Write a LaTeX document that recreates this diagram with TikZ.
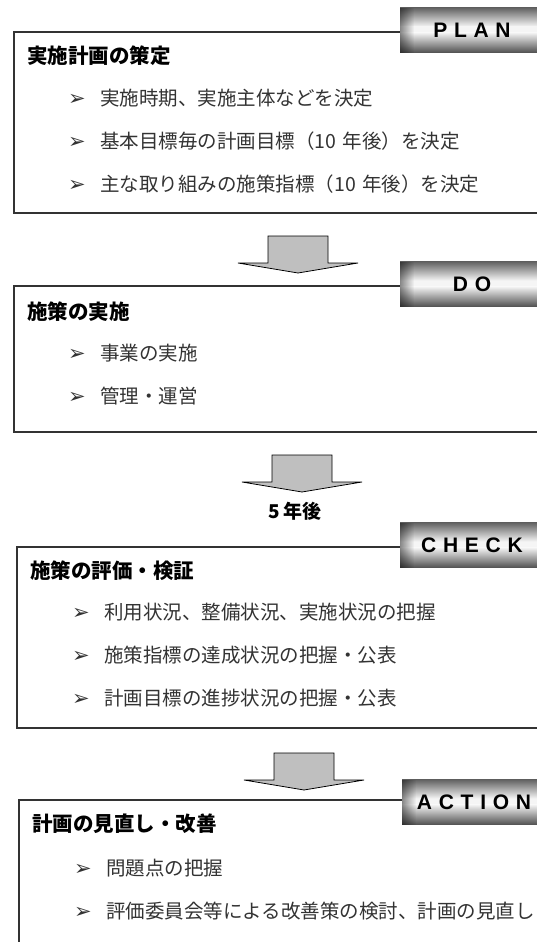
\documentclass[tikz,border=0pt]{standalone}
\usepackage{fontspec}
\usepackage{tikz}
\usetikzlibrary{positioning, calc, fadings}
\setmainfont{Noto Sans CJK JP}
\newfontfamily\latinfont{Liberation Sans}
\newfontfamily\symfont{DejaVu Sans}

\newcommand{\itembul}{\makebox[32pt][l]{\symfont\fontsize{21}{21}\selectfont ➢}}

\begin{document}
\begin{tikzpicture}[x=1pt,y=-1pt,node distance=43pt,
    panel/.style={draw=black!80,line width=1.3pt},
    title/.style={anchor=west,inner sep=0pt,font=\bfseries\fontsize{20.5}{21}\selectfont},
    item/.style={anchor=west,inner sep=0pt,text width=440pt,align=left,
      text=black!80,font=\fontsize{19.5}{20}\selectfont},
    tag/.style={minimum width=144pt,minimum height=45pt,inner sep=0pt,
      font=\latinfont\bfseries\fontsize{21}{22}\selectfont\addfontfeature{LetterSpace=32},
      path picture={
        \coordinate (nw) at (path picture bounding box.north west);
        \coordinate (se) at (path picture bounding box.south east);
        \shade[top color=black!62,bottom color=black!4] (nw) rectangle ([yshift=-19pt]nw -| se);
        \fill[black!4] ([yshift=-19pt]nw) rectangle ([yshift=-25pt]nw -| se);
        \shade[top color=black!4,bottom color=black!68] ([yshift=-25pt]nw) rectangle (se);
        \fill[black,fill opacity=0.45,path fading=east] (nw) rectangle ([xshift=14pt]se -| nw);
      }},
    flow/.style={draw=black,line width=0.8pt,fill=black!25},
    flowarrow/.pic={\draw[flow] (-30,0) -- (30,0) -- (30,27) -- (60,27) -- (0,37)
      -- (-60,27) -- (-30,27) -- cycle;}]

\clip (0,0) rectangle (537,942);
\fill[white] (0,0) rectangle (537,942);

% PLAN
\draw[panel] (14,32) rectangle (570,213);
\node[tag] (plan) at (472,30) {PLAN};
\node[title] (plantitle) at (27,56) {実施計画の策定};
\node[item] (plan1) at (68,98) {\itembul 実施時期、実施主体などを決定};
\node[item] (plan2) [below of=plan1] {\itembul 基本目標毎の計画目標（10 年後）を決定};
\node[item] (plan3) [below of=plan2] {\itembul 主な取り組みの施策指標（10 年後）を決定};

\pic at (298,236) {flowarrow};

% DO
\draw[panel] (14,286) rectangle (570,432);
\node[tag] (do) at (472,284) {DO};
\node[title] (dotitle) at (27,312) {施策の実施};
\node[item] (do1) at (68,353) {\itembul 事業の実施};
\node[item] (do2) [below of=do1] {\itembul 管理・運営};

\pic at (302,455) {flowarrow};
\node[font=\bfseries\fontsize{19}{20}\selectfont] (later) at (295,511) {5 年後};

% CHECK
\draw[panel] (17,547) rectangle (570,728);
\node[tag] (check) at (472,545) {CHECK};
\node[title] (checktitle) at (30,571) {施策の評価・検証};
\node[item] (check1) at (72,612) {\itembul 利用状況、整備状況、実施状況の把握};
\node[item] (check2) [below of=check1] {\itembul 施策指標の達成状況の把握・公表};
\node[item] (check3) [below of=check2] {\itembul 計画目標の進捗状況の把握・公表};

\pic at (304,753) {flowarrow};

% ACTION
\draw[panel] (19,800) rectangle (570,990);
\node[tag] (action) at (474,802) {ACTION};
\node[title] (actiontitle) at (32,824) {計画の見直し・改善};
\node[item] (action1) at (74,868) {\itembul 問題点の把握};
\node[item] (action2) [below of=action1] {\itembul 評価委員会等による改善策の検討、計画の見直し};

\end{tikzpicture}
\end{document}
